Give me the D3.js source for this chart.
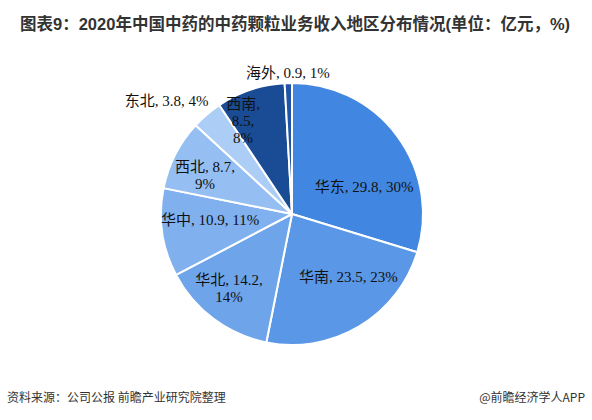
<!DOCTYPE html>
<html>
<head>
<meta charset="utf-8">
<script src="https://cdn.jsdelivr.net/npm/d3@7"></script>
<style>
    body { margin: 0; background: #fff; }
    svg { display: block; }
</style>
</head>
<body>
<div id="chart"></div>
<script>
// data (亿元), clockwise from 12 o'clock
const regions = ["华东", "华南", "华北", "华中", "西北", "东北", "西南", "海外"];
const revenue = [29.8, 23.5, 14.2, 10.9, 8.7, 3.8, 8.5, 0.9];
const shares  = ["30%", "23%", "14%", "11%", "9%", "4%", "8%", "1%"];
const colors  = ["#4187e1", "#5a97e6", "#6ea4ea", "#80b0ee", "#95bff2", "#abcdf6", "#1a4b95", "#1f54a6"];

// how each label is broken into lines (Excel wrapped some of them)
const labelLines = [
    d => [d.name + ", " + d.value + ", " + d.share],
    d => [d.name + ", " + d.value + ", " + d.share],
    d => [d.name + ", " + d.value + ",", d.share],
    d => [d.name + ", " + d.value + ", " + d.share],
    d => [d.name + ", " + d.value + ",", d.share],
    d => [d.name + ", " + d.value + ", " + d.share],
    d => [d.name + ",", d.value + ",", d.share],
    d => [d.name + ", " + d.value + ", " + d.share]
];
// label radius as a fraction of pie radius, plus a small nudge
const labelRadius = [0.6, 0.6, 0.6, 0.6, 0.6, 1.18, 0.6, 1.1];
const labelNudge  = [[9, 20], [16, -4], [-16, 12], [-4, -5], [-17, -3], [-25, 4], [-24, -18], [0, 3]];

const W = 592, H = 420;
const cx = 292, cy = 214, R = 131;

const svg = d3.select("#chart").append("svg")
    .attr("width", W)
    .attr("height", H);

// faint watermarks
const marks = [[130, 150], [470, 160], [470, 320], [200, 330]];
marks.forEach(function(m) {
    svg.append("text")
        .attr("transform", "translate(" + m[0] + "," + m[1] + ") rotate(-30)")
        .attr("text-anchor", "middle")
        .attr("font-family", "Noto Sans CJK SC")
        .attr("font-weight", "bold")
        .attr("font-size", 22)
        .attr("fill", "#000")
        .attr("fill-opacity", 0.025)
        .text("前瞻产业研究院");
});

// title
svg.append("text")
    .attr("x", 20)
    .attr("y", 30)
    .attr("font-family", "'Liberation Sans', 'Noto Sans CJK SC', sans-serif")
    .attr("font-weight", "bold")
    .attr("font-size", 16.5)
    .attr("fill", "#333")
    .text("图表9：2020年中国中药的中药颗粒业务收入地区分布情况(单位：亿元，%)");

let data = regions.map(function(r, i) {
    return { name: r, value: revenue[i], share: shares[i], color: colors[i], i: i };
});

let pie = d3.pie()
    .sort(null)
    .value(d => d.value);

let arc = d3.arc()
    .innerRadius(0)
    .outerRadius(R);

let g = svg.append("g")
    .attr("transform", "translate(" + cx + "," + cy + ")");

let arcs = pie(data);

g.selectAll("path")
    .data(arcs)
    .enter()
    .append("path")
    .attr("d", arc)
    .attr("fill", d => d.data.color)
    .attr("stroke", "#fff")
    .attr("stroke-width", 2)
    .attr("stroke-linejoin", "round");

let lineH = 17;

g.selectAll("text.lbl")
    .data(arcs)
    .enter()
    .append("text")
    .attr("class", "lbl")
    .attr("text-anchor", "middle")
    .attr("font-family", "'Liberation Serif', 'Times New Roman', 'Noto Sans CJK SC', serif")
    .attr("font-size", 15)
    .attr("fill", "#111")
    .each(function(d) {
        let i = d.data.i;
        let r = R * labelRadius[i];
        let c = d3.arc().innerRadius(r).outerRadius(r).centroid(d);
        let x = c[0] + labelNudge[i][0];
        let y = c[1] + labelNudge[i][1];
        let lines = labelLines[i](d.data);
        let y0 = y - (lines.length - 1) * lineH / 2 + 5;
        let t = d3.select(this);
        lines.forEach(function(s, k) {
            t.append("tspan")
                .attr("x", x)
                .attr("y", y0 + k * lineH)
                .text(s);
        });
    });

// footer
svg.append("text")
    .attr("x", 7)
    .attr("y", 402)
    .attr("font-family", "'Noto Sans CJK SC', sans-serif")
    .attr("font-size", 12)
    .attr("fill", "#333")
    .text("资料来源：公司公报 前瞻产业研究院整理");

svg.append("text")
    .attr("x", 585)
    .attr("y", 402)
    .attr("text-anchor", "end")
    .attr("font-family", "'Noto Sans CJK SC', sans-serif")
    .attr("font-size", 12)
    .attr("fill", "#333")
    .text("@前瞻经济学人APP");
</script>
</body>
</html>
